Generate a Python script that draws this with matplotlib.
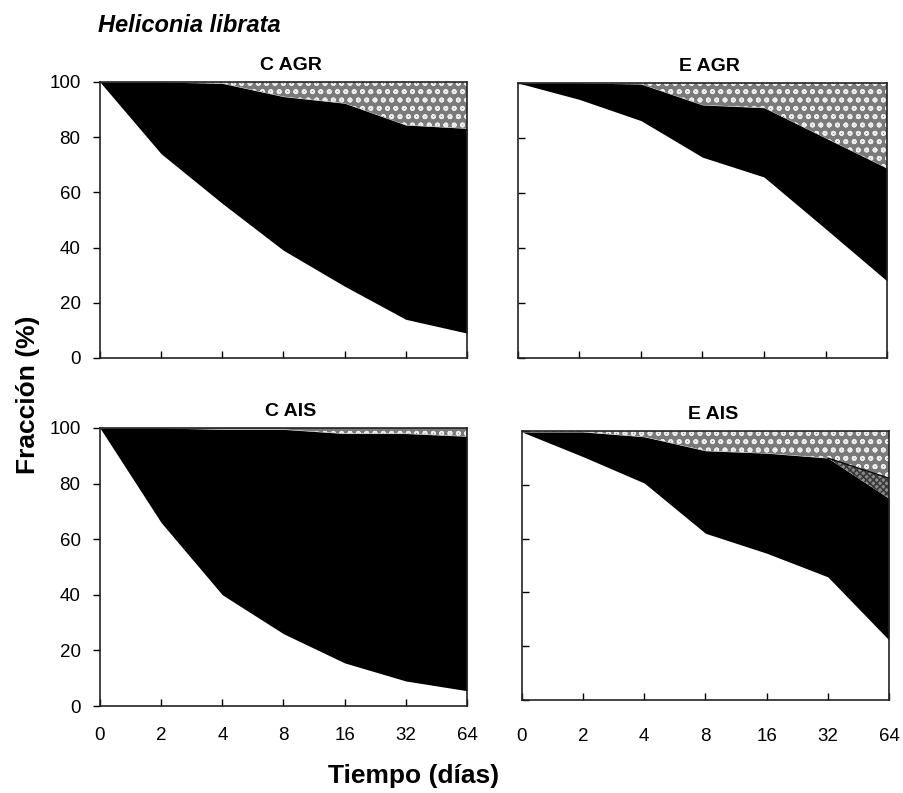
import numpy as np
import matplotlib
matplotlib.use('Agg')
import matplotlib.pyplot as plt

plt.rcParams['font.family'] = ['Liberation Sans', 'DejaVu Sans']
plt.rcParams['hatch.linewidth'] = 1.2

dias = ['0', '2', '4', '8', '16', '32', '64']
yticks = [0, 20, 40, 60, 80, 100]

# fracciones (%): blanco (abajo), negro, trama cruzada, gris (arriba)
c_agr_white = [100, 74, 56, 39, 26, 14, 9]
c_agr_black = [0, 26, 43.5, 55.7, 66.3, 70.4, 74.2]
c_agr_gray = [0, 0, 0.5, 5.3, 7.7, 15.6, 16.8]

e_agr_white = [100, 94, 86.3, 73, 65.8, 47, 28]
e_agr_black = [0, 6, 13.3, 19, 25.2, 33, 41]
e_agr_gray = [0, 0, 0.4, 8, 9, 20, 31]

c_ais_white = [100, 66, 40, 26, 15.5, 9, 5.5]
c_ais_black = [0, 34, 59.5, 73.5, 82.5, 89, 91.5]
c_ais_gray = [0, 0, 0.5, 0.5, 2, 2, 3]

e_ais_white = [99.7, 90.5, 80.7, 62, 54.6, 45.8, 22.3]
e_ais_black = [0, 9.2, 17.2, 30.7, 37.2, 44.2, 52.7]
e_ais_cross = [0, 0, 0, 0, 0, 0, 7.5]
e_ais_gray = [0.3, 0.3, 2.1, 7.3, 8.2, 10, 17.5]

fig = plt.figure(figsize=(9.04, 7.93), dpi=100)

panels = [
    ('C AGR', [0.1106, 0.5486, 0.4060, 0.348], [c_agr_white, c_agr_black, c_agr_gray], True, False),
    ('E AGR', [0.5730, 0.5486, 0.4082, 0.3468], [e_agr_white, e_agr_black, e_agr_gray], False, False),
    ('C AIS', [0.1106, 0.1097, 0.4060, 0.3506], [c_ais_white, c_ais_black, c_ais_gray], True, True),
    ('E AIS', [0.5774, 0.1173, 0.4060, 0.339], [e_ais_white, e_ais_black, e_ais_cross, e_ais_gray], False, True),
]

x = np.arange(len(dias))
for title, pos, series, left, bottom in panels:
    ax = fig.add_axes(pos)
    base = np.zeros(len(dias))
    for k, s in enumerate(series):
        top = base + np.array(s)
        if k == 0:
            ax.fill_between(x, base, top, color='white', lw=0)
        elif k == 1:
            ax.fill_between(x, base, top, color='black', lw=0)
        elif k == len(series) - 1:
            ax.fill_between(x, base, top, facecolor='#7a7a7a', edgecolor='#ececec',
                            hatch='oo', lw=0)
        else:
            ax.fill_between(x, base, top, facecolor='#8a8a8a', edgecolor='#3a3a3a',
                            hatch='xxxxx', lw=0)
            ax.plot(x[5:], top[5:], color='black', lw=0.9)
        base = top
    ax.set_xlim(0, 6)
    ax.set_ylim(0, 100)
    ax.set_xticks(x)
    ax.set_yticks(yticks)
    for sp in ax.spines.values():
        sp.set_linewidth(1.2)
        sp.set_color('#222222')
    ax.tick_params(axis='x', direction='in', length=5, width=1)
    if left:
        ax.tick_params(axis='y', direction='out', length=5, width=1, labelsize=13.5, pad=9)
    else:
        ax.tick_params(axis='y', direction='in', length=5, width=1, labelleft=False)
    if bottom:
        ax.set_xticklabels(dias)
        ax.tick_params(axis='x', labelsize=13.5, pad=15 if left else 20)
    else:
        ax.tick_params(axis='x', labelbottom=False)
    ax.text(0.52, 1.03, title, transform=ax.transAxes, ha='center', va='bottom',
            fontsize=14, fontweight='bold')

fig.text(0.108, 0.968, 'Heliconia librata', fontsize=17, fontweight='bold',
         fontstyle='italic', ha='left', va='center')
fig.text(0.031, 0.502, 'Fracción (%)', fontsize=19, fontweight='bold',
         rotation=90, ha='center', va='center')
fig.text(0.457, 0.022, 'Tiempo (días)', fontsize=19, fontweight='bold',
         ha='center', va='center')

fig.savefig('out.png', dpi=100)
